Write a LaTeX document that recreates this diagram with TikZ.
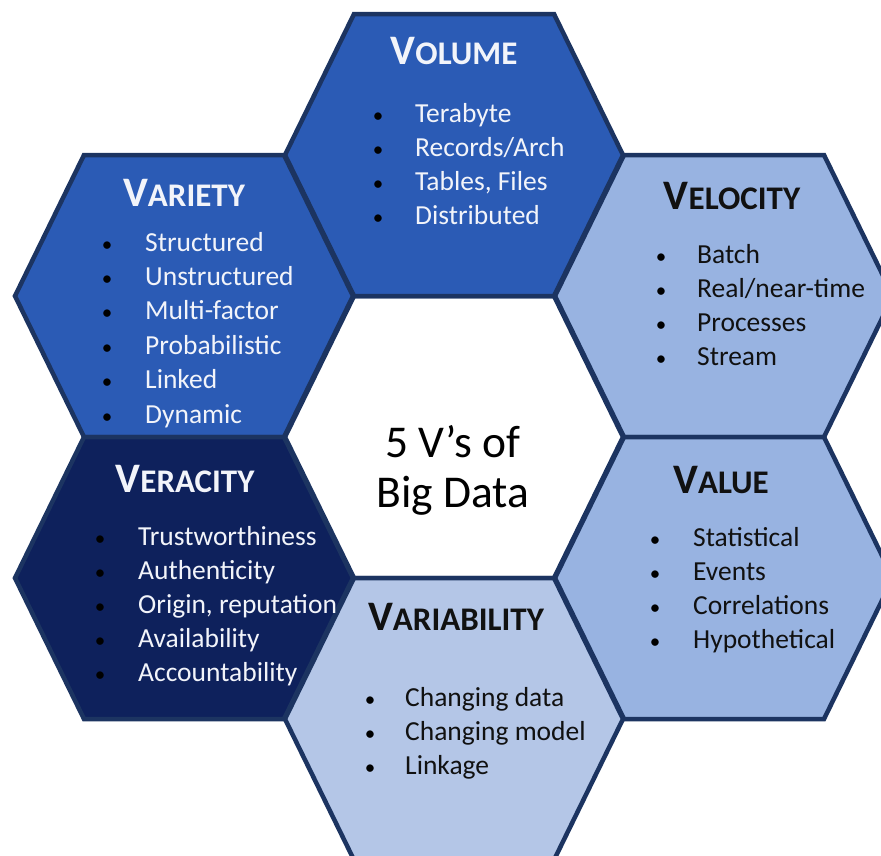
\documentclass[tikz,border=0pt]{standalone}
\usepackage{fontspec}
\setmainfont{Carlito}
\definecolor{hexline}{HTML}{1C3461}
\definecolor{midblue}{HTML}{2B5BB5}
\definecolor{navy}{HTML}{0E215C}
\definecolor{lightblue}{HTML}{98B3E1}
\definecolor{paleblue}{HTML}{B4C6E7}
\definecolor{paletext}{HTML}{F2F4FA}
\definecolor{darktext}{HTML}{111111}
\tikzset{
  hexcellstyle/.style={draw=hexline, line width=4.5pt, line join=miter},
  titletext/.style={anchor=base, inner sep=0pt, font=\bfseries},
  itemtext/.style={anchor=base west, inner sep=0pt, font=\fontsize{27.5}{27.5}\selectfont},
  bullettext/.style={anchor=base, inner sep=0pt, text=black, font=\fontsize{21}{21}\selectfont},
  centertext/.style={anchor=base, inner sep=0pt, text=black, font=\fontsize{45.5}{45.5}\selectfont}
}
\newcommand\hexcell[3]{\path[hexcellstyle, fill=#3] ({#1-169},#2) -- ({#1-100},{#2-141}) -- ({#1+100},{#2-141}) -- ({#1+169},#2) -- ({#1+100},{#2+141}) -- ({#1-100},{#2+141}) -- cycle;}
\newcommand\vtitle[1]{{\fontsize{42}{42}\selectfont V}{\fontsize{33}{33}\selectfont #1}}
\begin{document}
\begin{tikzpicture}[x=1pt,y=-1pt]
\useasboundingbox (0,0) rectangle (881,855);
\fill[white] (0,0) rectangle (881,855);
\begin{scope}
\clip (0,0) rectangle (881,855);
\hexcell{454}{437}{white}
\hexcell{454}{155}{midblue}
\hexcell{184}{296}{midblue}
\hexcell{724}{296}{lightblue}
\hexcell{184}{578}{navy}
\hexcell{724}{578}{lightblue}
\hexcell{454}{719}{paleblue}
\end{scope}
% titles
\node[titletext, text=paletext] (tvol) at (454,64) {\vtitle{OLUME}};
\node[titletext, text=paletext] (tvar) at (184,206) {\vtitle{ARIETY}};
\node[titletext, text=darktext] (tvel) at (732,209) {\vtitle{ELOCITY}};
\node[titletext, text=paletext] (tver) at (185,492) {\vtitle{ERACITY}};
\node[titletext, text=darktext] (tval) at (721,493) {\vtitle{ALUE}};
\node[titletext, text=darktext] (tvab) at (456,630) {\vtitle{ARIABILITY}};
% lists
\foreach \t [count=\i] in {Terabyte, Records/Arch, {Tables, Files}, Distributed} {
  \node[bullettext] (volb\i) at (378,{122+34.2*(\i-1)}) {•};
  \node[itemtext, text=paletext] (volt\i) at (415,{122+34.2*(\i-1)}) {\t};
}
\foreach \t [count=\i] in {Structured, Unstructured, Multi-factor, Probabilistic, Linked, Dynamic} {
  \node[bullettext] (varb\i) at (107,{251+34.4*(\i-1)}) {•};
  \node[itemtext, text=paletext] (vart\i) at (145,{251+34.4*(\i-1)}) {\t};
}
\foreach \t [count=\i] in {Batch, Real/near-time, Processes, Stream} {
  \node[bullettext] (velb\i) at (661,{263+34.2*(\i-1)}) {•};
  \node[itemtext, text=darktext] (velt\i) at (697,{263+34.2*(\i-1)}) {\t};
}
\foreach \t [count=\i] in {Trustworthiness, Authenticity, {Origin, reputation}, Availability, Accountability} {
  \node[bullettext] (verb\i) at (100,{545+34.2*(\i-1)}) {•};
  \node[itemtext, text=paletext] (vert\i) at (138,{545+34.2*(\i-1)}) {\t};
}
\foreach \t [count=\i] in {Statistical, Events, Correlations, Hypothetical} {
  \node[bullettext] (valb\i) at (655,{546+34.2*(\i-1)}) {•};
  \node[itemtext, text=darktext] (valt\i) at (693,{546+34.2*(\i-1)}) {\t};
}
\foreach \t [count=\i] in {Changing data, Changing model, Linkage} {
  \node[bullettext] (vabb\i) at (370,{706+34.2*(\i-1)}) {•};
  \node[itemtext, text=darktext] (vabt\i) at (405,{706+34.2*(\i-1)}) {\t};
}
% centre
\node[centertext] (c1) at (453,457) {5 V’s of};
\node[centertext] (c2) at (453,507) {Big Data};
\end{tikzpicture}
\end{document}
